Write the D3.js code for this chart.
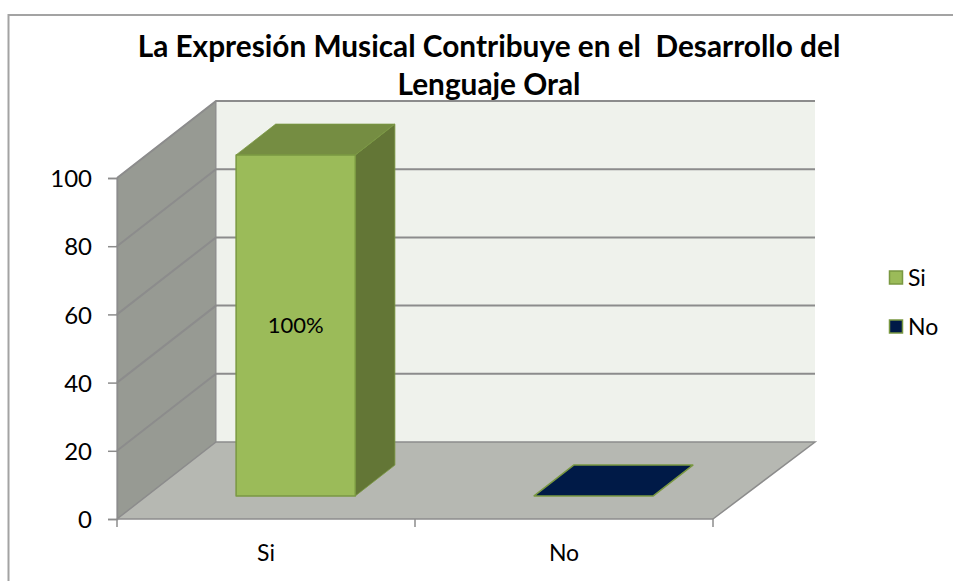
<!DOCTYPE html>
<html>
<head>
<meta charset="utf-8">
<script src="https://cdn.jsdelivr.net/npm/d3@7"></script>
<style>
  html, body { margin: 0; padding: 0; background: #fff; }
  svg { display: block; }
  text { font-family: Lato, "Open Sans", sans-serif; fill: #000; white-space: pre; }
</style>
</head>
<body>
<svg id="chart" width="953" height="581"></svg>
<script>
// ---- data ----
const categories = ["Si", "No"];
const values = [100, 0];
const valueLabels = ["100%", ""];
const seriesNames = ["Si", "No"];
const yTicks = [0, 20, 40, 60, 80, 100];
const titleLines = ["La Expresión Musical Contribuye en el  Desarrollo del", "Lenguaje Oral"];

// ---- layout ----
const svg = d3.select("#chart");
const FONT = "Lato, 'Open Sans', sans-serif";
const x0 = 117, x1 = 713, yBase = 519, yTop = 178;
const dx = 99, dy = -77;                // depth vector of the 3D box
const barDepth0 = 0.3, barDepth1 = 0.7; // bar position in depth
const colors = {
  front: ["#9BBB59", "#001A47"],
  top:   ["#758D42", "#001A47"],
  side:  ["#637636", "#001A47"],
  stroke: "#7A9841"
};

const x = d3.scaleBand().domain(categories).range([x0, x1]).paddingInner(0).paddingOuter(0);
const y = d3.scaleLinear().domain([0, 100]).range([yBase, yTop]);

// outer chart border
svg.append("rect").attr("x", 8.5).attr("y", 15).attr("width", 1000).attr("height", 700)
  .attr("fill", "none").attr("stroke", "#A3A3A3").attr("stroke-width", 2);

// title
const title = svg.append("g");
titleLines.forEach((t, i) => {
  title.append("text")
    .attr("x", 489).attr("y", i === 0 ? 57 : 95)
    .attr("text-anchor", "middle")
    .attr("font-weight", "bold")
    .attr("font-size", 25)
    .attr("xml:space", "preserve")
    .text(t);
});
{
  const t0 = title.select("text").node();
  const w = t0.getComputedTextLength();
  const fs = 25 * 703 / w;
  title.selectAll("text").attr("font-size", fs);
}

const line = d3.line();

// side wall (left)
svg.append("path")
  .attr("d", line([[x0, y(0)], [x0, y(100)], [x0 + dx, y(100) + dy], [x0 + dx, y(0) + dy]]) + "Z")
  .attr("fill", "#979A93").attr("stroke", "#8E8E8E").attr("stroke-width", 1);

// back wall
svg.append("path")
  .attr("d", line([[x0 + dx, y(0) + dy], [x0 + dx, y(100) + dy], [x1 + dx + 3, y(100) + dy], [x1 + dx + 3, y(0) + dy]]) + "Z")
  .attr("fill", "#EFF2EC");

// floor
svg.append("path")
  .attr("d", line([[x0, y(0)], [x1, y(0)], [x1 + dx + 3, y(0) + dy], [x0 + dx, y(0) + dy]]) + "Z")
  .attr("fill", "#B6B8B2");

// gridlines on side + back walls
const grid = svg.append("g").attr("stroke", "#8C8C8C").attr("stroke-width", 2).attr("fill", "none");
yTicks.forEach(v => {
  if (v > 0) {
    grid.append("path").attr("d", line([[x0, y(v)], [x0 + dx, y(v) + dy], [x1 + dx + 3, y(v) + dy]]));
  }
});
grid.append("path").attr("d", line([[x0, y(0)], [x0 + dx, y(0) + dy], [x1 + dx + 3, y(0) + dy], [x1, y(0)]]))
  .attr("stroke-width", 1.5);
grid.append("path").attr("d", line([[x0 + dx, y(0) + dy], [x0 + dx, y(100) + dy]])).attr("stroke-width", 1);

// bars
const bars = svg.append("g");
categories.forEach((c, i) => {
  const bw = x.bandwidth();
  const bx0 = x(c) + bw * 0.3 + dx * barDepth0;
  const bx1 = x(c) + bw * 0.7 + dx * barDepth0;
  const by0 = y(0) + dy * barDepth0;
  const byTop = y(values[i]) + dy * barDepth0;
  const ddx = dx * (barDepth1 - barDepth0), ddy = dy * (barDepth1 - barDepth0);
  const g = bars.append("g").attr("stroke", colors.stroke).attr("stroke-width", 1.5).attr("stroke-linejoin", "round");
  if (values[i] > 0) {
    g.append("path").attr("d", line([[bx1, by0], [bx1, byTop], [bx1 + ddx, byTop + ddy], [bx1 + ddx, by0 + ddy]]) + "Z")
      .attr("fill", colors.side[i]).attr("stroke-width", 0.8);
    g.append("path").attr("d", line([[bx0, byTop], [bx1, byTop], [bx1 + ddx, byTop + ddy], [bx0 + ddx, byTop + ddy]]) + "Z")
      .attr("fill", colors.top[i]).attr("stroke-width", 0.8);
    g.append("rect").attr("x", bx0).attr("y", byTop).attr("width", bx1 - bx0).attr("height", by0 - byTop)
      .attr("fill", colors.front[i]);
    bars.append("text")
      .attr("x", (bx0 + bx1) / 2).attr("y", (byTop + by0) / 2 + 8)
      .attr("text-anchor", "middle").attr("font-size", 22)
      .text(valueLabels[i]);
  } else {
    g.append("path").attr("d", line([[bx0, by0], [bx1, by0], [bx1 + ddx, by0 + ddy], [bx0 + ddx, by0 + ddy]]) + "Z")
      .attr("fill", colors.front[i]);
  }
});

// y axis
const yAxis = d3.axisLeft(y).tickValues(yTicks).tickSize(9).tickPadding(16).tickFormat(d3.format("d"));
const ya = svg.append("g").attr("transform", `translate(${x0},0)`).call(yAxis)
  .attr("font-family", FONT).attr("font-size", 24);
ya.select(".domain").attr("stroke", "#8C8C8C").attr("stroke-width", 1.5);
ya.selectAll(".tick line").attr("stroke", "#8C8C8C").attr("stroke-width", 1.5);
ya.selectAll(".tick text").attr("fill", "#000").attr("dy", "0.36em");

// x axis (labels at band centres, ticks at band boundaries)
const xAxis = d3.axisBottom(x).tickSize(0).tickPadding(26);
const xa = svg.append("g").attr("transform", `translate(0,${yBase})`).call(xAxis)
  .attr("font-family", FONT).attr("font-size", 23);
xa.select(".domain").remove();
xa.selectAll(".tick text").attr("fill", "#000");
const bounds = categories.map(c => x(c)).concat([x(categories[categories.length - 1]) + x.bandwidth()]);
const xt = svg.append("g").attr("stroke", "#8C8C8C").attr("stroke-width", 1.5);
xt.append("line").attr("x1", x0).attr("x2", x1).attr("y1", yBase).attr("y2", yBase);
bounds.forEach(b => xt.append("line").attr("x1", b).attr("x2", b).attr("y1", yBase).attr("y2", yBase + 8));

// legend
const legend = svg.append("g");
seriesNames.forEach((s, i) => {
  const ly = 278 + i * 49;
  legend.append("rect").attr("x", 889.5).attr("y", ly - 7).attr("width", 13).attr("height", 13)
    .attr("fill", colors.front[i]).attr("stroke", colors.stroke).attr("stroke-width", 1.5);
  legend.append("text").attr("x", 908).attr("y", ly + 8).attr("font-size", 23).text(s);
});
</script>
</body>
</html>
